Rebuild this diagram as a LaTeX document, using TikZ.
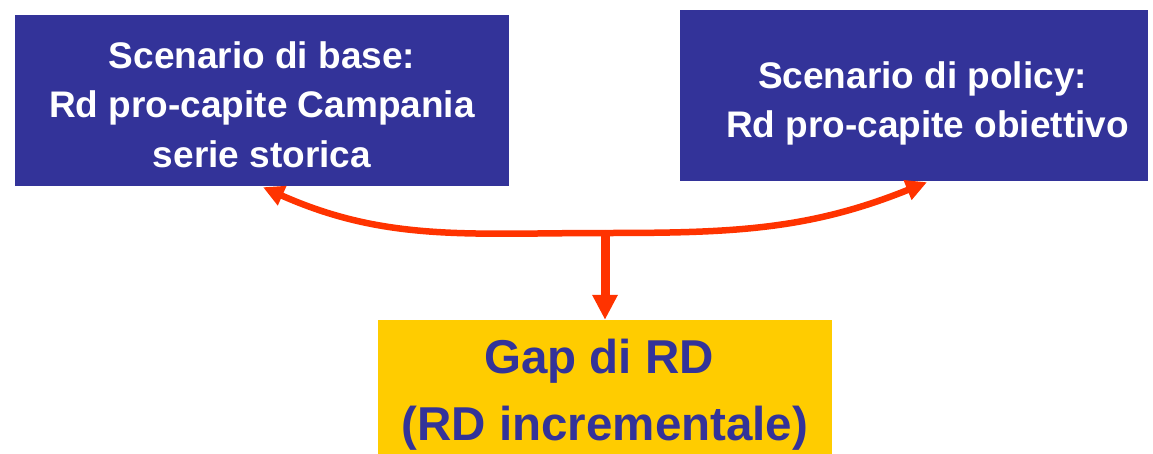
\documentclass[tikz,border=0pt]{standalone}
\usepackage{fontspec}
\setmainfont{Liberation Sans}
\usetikzlibrary{arrows.meta}
\definecolor{boxblue}{HTML}{333399}
\definecolor{gapyellow}{HTML}{FFCC00}
\definecolor{arrred}{HTML}{FF3300}
\tikzset{
  bluebox/.style={fill=boxblue, draw=none, inner sep=0pt},
  yellowbox/.style={fill=gapyellow, draw=none, inner sep=0pt},
  boxtext/.style={text=white, font=\bfseries\fontsize{37}{50}\selectfont, anchor=base, inner sep=0pt},
  gaptext/.style={text=boxblue, font=\bfseries\fontsize{47.5}{67}\selectfont, anchor=base, inner sep=0pt},
  curvearr/.style={draw=arrred, line width=6.5pt, -{Triangle[length=21pt,width=20pt]}},
  stemarr/.style={draw=arrred, line width=9pt, -{Triangle[length=25pt,width=24pt]}}
}
\begin{document}
\begin{tikzpicture}[x=1pt,y=-1pt]
\useasboundingbox (0,0) rectangle (1153,453);
\node[bluebox, minimum width=494pt, minimum height=171pt] (base) at (262,100.5) {};
\node[bluebox, minimum width=468pt, minimum height=171pt] (policy) at (914,95.5) {};
\node[yellowbox, minimum width=454pt, minimum height=136pt] (gap) at (605,388) {};
\node[boxtext] (b1) at (262,68) {Scenario di base:};
\node[boxtext] (b2) at (262,117) {Rd pro-capite Campania};
\node[boxtext] (b3) at (262,167) {serie storica};
\node[boxtext] (p1) at (922.5,88) {Scenario di policy:};
\node[boxtext] (p2) at (927.5,137) {Rd pro-capite obiettivo};
\node[gaptext] (g1) at (599,373) {Gap di RD};
\node[gaptext] (g2) at (605,440) {(RD incrementale)};
\coordinate (mid) at (605,233);
\coordinate (ltip) at ([xshift=1pt,yshift=-1pt]base.south);
\coordinate (rtip) at ([xshift=13pt,yshift=-1pt]policy.south);
\draw[curvearr] (mid) to[out=180,in=-24] (ltip);
\draw[curvearr] (mid) to[out=0,in=-158] (rtip);
\draw[stemarr] ([yshift=-3pt]mid) -- (gap.north);
\end{tikzpicture}
\end{document}
